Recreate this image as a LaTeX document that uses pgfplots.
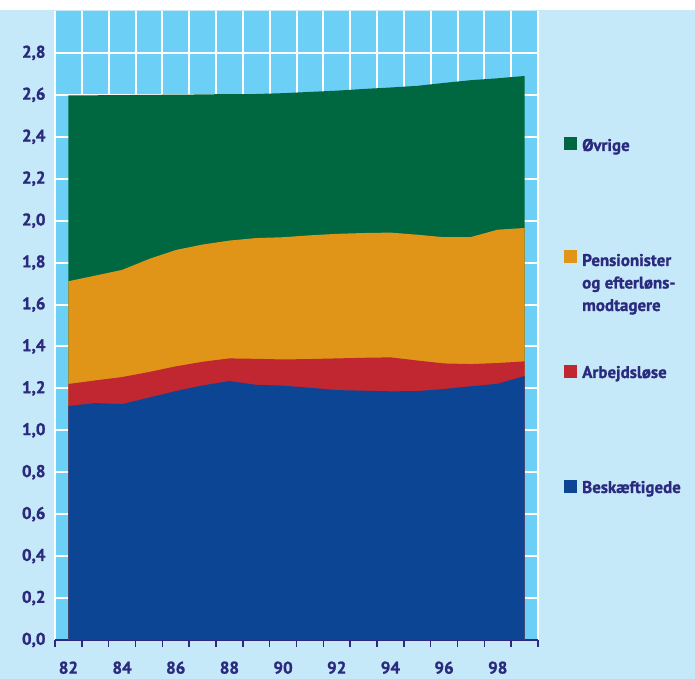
\documentclass[border=0pt]{standalone}
\usepackage{fontspec}
\setmainfont{PT Sans}[BoldFeatures={FakeBold=1.2}]
\usepackage{pgfplots}
\pgfplotsset{compat=1.18}
\definecolor{bgout}{RGB}{198,233,249}
\definecolor{bgin}{RGB}{108,207,246}
\definecolor{cGreen}{RGB}{0,104,64}
\definecolor{cOrange}{RGB}{224,149,24}
\definecolor{cRed}{RGB}{193,39,48}
\definecolor{cBlue}{RGB}{11,69,148}
\definecolor{navy}{RGB}{43,42,126}
\newcommand{\lblfont}{\bfseries\fontsize{17}{20}\selectfont}
\begin{document}
\begin{tikzpicture}[x=1bp,y=1bp]
\path (0,0) rectangle (695,679);
\fill[bgout] (0,0) rectangle (695,669);
\begin{axis}[
  at={(55bp,39bp)}, anchor=south west,
  scale only axis, width=483bp, height=629bp,
  xmin=81.5, xmax=99.5, ymin=0, ymax=3.0,
  axis background/.style={fill=bgin},
  axis x line*=bottom, axis y line*=left,
  y axis line style={draw=none},
  x axis line style={draw=navy, line width=2bp},
  xtick={82,84,...,98},
  xticklabels={82,84,86,88,90,92,94,96,98},
  minor xtick={81.5,82.5,...,99.5},
  ytick={0,0.2,...,2.81},
  major tick length=0pt,
  minor tick length=7bp,
  tick align=outside,
  minor tick style={draw=navy, line width=1.5bp},
  xminorgrids=true, ymajorgrids=true, xmajorgrids=false,
  major grid style={draw=white, line width=2bp},
  minor grid style={draw=white, line width=2bp},
  /pgf/number format/assume math mode=true,
  yticklabel style={font=\lblfont, text=navy, xshift=-6bp,
    /pgf/number format/.cd, fixed, fixed zerofill, precision=1, use comma},
  xticklabel style={font=\lblfont, text=navy, yshift=-18bp},
]
% Øvrige (cumulative top)
\addplot[draw=none, fill=cGreen] coordinates {
 (82,2.598) (83,2.598) (84,2.599) (85,2.600) (86,2.601) (87,2.602) (88,2.604) (89,2.604) (90,2.608)
 (91,2.614) (92,2.620) (93,2.628) (94,2.635) (95,2.643) (96,2.657) (97,2.670) (98,2.679) (99,2.690)} \closedcycle;
% Pensionister og efterlønsmodtagere (cumulative top)
\addplot[draw=none, fill=cOrange] coordinates {
 (82,1.711) (83,1.738) (84,1.765) (85,1.817) (86,1.860) (87,1.886) (88,1.905) (89,1.917) (90,1.921)
 (91,1.930) (92,1.937) (93,1.941) (94,1.943) (95,1.933) (96,1.921) (97,1.922) (98,1.957) (99,1.965)} \closedcycle;
% Arbejdsløse (cumulative top)
\addplot[draw=none, fill=cRed] coordinates {
 (82,1.221) (83,1.238) (84,1.254) (85,1.278) (86,1.305) (87,1.327) (88,1.343) (89,1.341) (90,1.338)
 (91,1.340) (92,1.343) (93,1.346) (94,1.348) (95,1.333) (96,1.319) (97,1.316) (98,1.321) (99,1.329)} \closedcycle;
% Beskæftigede
\addplot[draw=none, fill=cBlue] coordinates {
 (82,1.116) (83,1.130) (84,1.125) (85,1.156) (86,1.187) (87,1.214) (88,1.235) (89,1.217) (90,1.213)
 (91,1.203) (92,1.192) (93,1.189) (94,1.186) (95,1.187) (96,1.197) (97,1.210) (98,1.222) (99,1.259)} \closedcycle;
\end{axis}
% legend
\fill[cGreen]  (564,529) rectangle (577,542);
\fill[cOrange] (564,415.5) rectangle (577,428.5);
\fill[cRed]    (564,300.5) rectangle (577,313.5);
\fill[cBlue]   (564,185.5) rectangle (577,198.5);
\begin{scope}[every node/.style={anchor=base west, inner sep=0pt, text=navy, font=\lblfont}]
\node at (582,528) {Øvrige};
\node at (582,413) {Pensionister};
\node at (582,390.5) {og efterløns-};
\node at (582,368) {modtagere};
\node at (582,301) {Arbejdsløse};
\node at (582,186) {Beskæftigede};
\end{scope}
\end{tikzpicture}
\end{document}
